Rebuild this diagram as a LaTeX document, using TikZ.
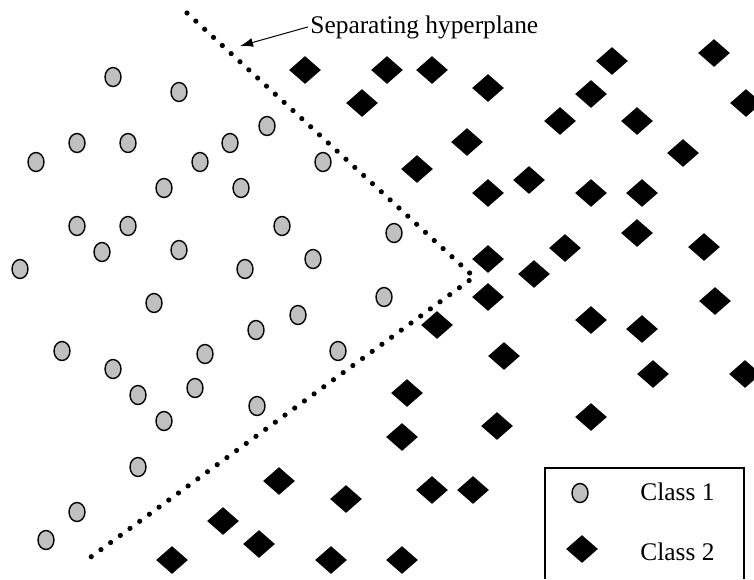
\documentclass[tikz,border=0pt]{standalone}
\usepackage{fontspec}
\setmainfont{Liberation Serif}
\usepackage{tikz}
\usetikzlibrary{arrows.meta,shapes.geometric}
\definecolor{pointgray}{RGB}{192,192,192}
\tikzset{class one/.style = {shape = ellipse, draw, line width = 0.7pt, fill = pointgray, inner sep = 0pt, minimum width = 8pt, minimum height = 9.5pt}}
\tikzset{class two/.style = {shape = diamond, fill = black, inner sep = 0pt, minimum width = 16pt, minimum height = 14pt}}
\tikzset{txt/.style = {font = \fontsize{12.7pt}{15pt}\selectfont, inner sep = 1pt}}
\tikzset{hyperplane/.style = {line width = 2.6pt, line cap = round, dash pattern = on 0pt off 6pt}}
\tikzset{pointer/.style = {-{Latex[length = 6.5pt, width = 4.5pt]}, line width = 0.5pt}}

\begin{document}
\begin{tikzpicture}[x = 0.5pt, y = -0.5pt]
	\clip (0, 0) rectangle (754, 579);

	% class 1 points
	\foreach \p [count = \i] in {(113,77), (179,92), (267,126), (77,143), (128,143), (230,143), (36,162), (200,162), (323,162), (164,188), (241,188), (77,226), (128,226), (282,226), (394,233), (102,252), (179,250), (313,259), (20,269), (245,269), (384,297), (154,303), (298,315), (256,330), (62,351), (205,354), (338,351), (113,369), (195,388), (138,395), (257,406), (164,421), (138,467), (77,512), (46,540)}
		\node[class one] (c\i) at \p {};

	% class 2 points
	\foreach \p [count = \i] in {(305,70), (387,70), (432,70), (714,53), (612,61), (488,88), (591,94), (362,103), (746,103), (560,121), (637,121), (467,142), (683,153), (417,169), (529,180), (488,193), (591,193), (642,193), (637,233), (565,248), (704,247), (488,259), (534,274), (488,297), (715,301), (591,320), (437,325), (642,329), (504,356), (653,374), (745,374), (407,393), (591,417), (497,426), (402,437), (279,481), (432,490), (473,490), (346,499), (223,521), (259,544), (172,560), (331,560), (402,560)}
		\node[class two] (d\i) at \p {};

	% separating hyperplane
	\coordinate (top) at (187, 13);
	\coordinate (apex) at (474, 277);
	\coordinate (bottom) at (84, 562);
	\draw[hyperplane] (top) -- (apex) -- (bottom);

	\node[txt, anchor = base west] (sep) at (308, 33) {Separating hyperplane};
	\coordinate (tip) at (240, 46);
	\draw[pointer] (sep.west) -- (tip);

	% legend
	\draw[line width = 0.6pt] (545, 579) |- (744, 468) -- (744, 579);
	\node[class one] (k1) at (580, 493) {};
	\node[txt, anchor = base west] (k1t) at (638, 500) {Class 1};
	\node[class two] (k2) at (582, 549) {};
	\node[txt, anchor = base west] (k2t) at (638, 560) {Class 2};
\end{tikzpicture}
\end{document}
